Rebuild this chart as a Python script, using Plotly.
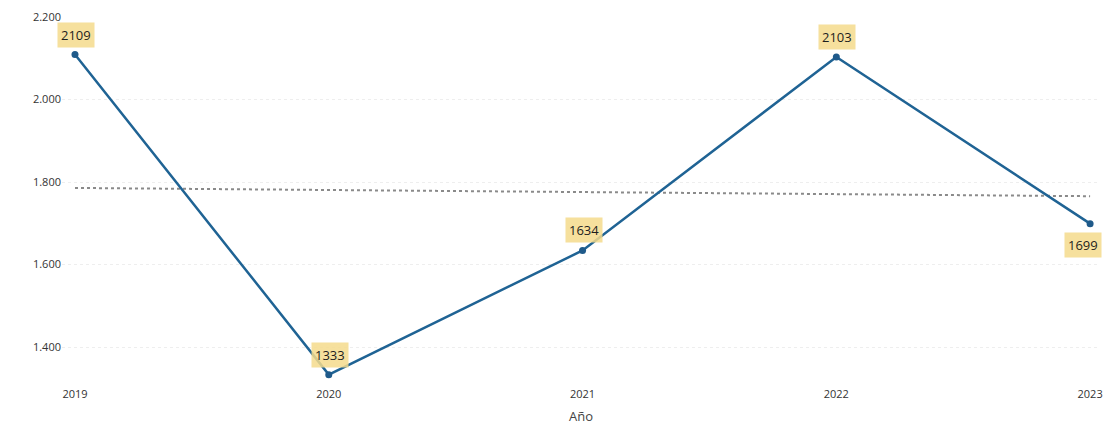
import numpy as np
import plotly.graph_objects as go

years = [2019, 2020, 2021, 2022, 2023]
values = [2109, 1333, 1634, 2103, 1699]
y_ticks = [1400, 1600, 1800, 2000, 2200]
label_pos = ["above", "above", "above", "above", "below"]

slope, intercept = np.polyfit(years, values, 1)
trend = [slope * x + intercept for x in years]

fig = go.Figure()
fig.add_trace(go.Scatter(
    x=[years[0], years[-1]], y=[trend[0], trend[-1]], mode="lines",
    line=dict(color="#8a8a8a", width=2, dash="dot"), hoverinfo="skip", showlegend=False))
fig.add_trace(go.Scatter(
    x=years, y=values, mode="lines+markers",
    line=dict(color="#1f6394", width=2.5),
    marker=dict(color="#1f5a8a", size=7), showlegend=False))

for x, v, p in zip(years, values, label_pos):
    xs = -7 if x == years[-1] else 1
    fig.add_annotation(
        x=x, y=v, text=str(v), showarrow=False,
        yshift=20 if p == "above" else -21, xshift=xs,
        bgcolor="rgba(245,218,140,0.85)", borderpad=3,
        font=dict(family="Open Sans", size=13, color="#1e1e1e"))

fig.add_annotation(
    xref="paper", yref="paper", x=0.5, y=0, yshift=-36, yanchor="middle",
    text="Año", showarrow=False, borderpad=0,
    font=dict(family="Open Sans", size=13, color="#444444"))

fig.update_layout(
    width=1108, height=425,
    margin=dict(l=62, r=8, t=17, b=45),
    plot_bgcolor="white", paper_bgcolor="white",
    separators=",.",
    font=dict(family="Open Sans", color="#333333"),
    xaxis=dict(
        range=[years[0] - 0.0512, years[-1] + 0.039],
        tickvals=years, ticktext=[str(y) for y in years],
        showgrid=False, zeroline=False, showline=False, automargin=False,
        tickfont=dict(size=11, color="#333333"),
        ticklabelstandoff=6),
    yaxis=dict(
        range=[1320, 2200], tickvals=y_ticks, tickformat=",",
        showgrid=True, gridcolor="#eeeeee", griddash="dot", gridwidth=1,
        zeroline=False, showline=False, automargin=False,
        tickfont=dict(size=11, color="#333333")),
)

fig.write_html("out.html", config={"displayModeBar": False},
               post_script="document.body.style.margin='0';document.body.style.overflow='hidden';")
